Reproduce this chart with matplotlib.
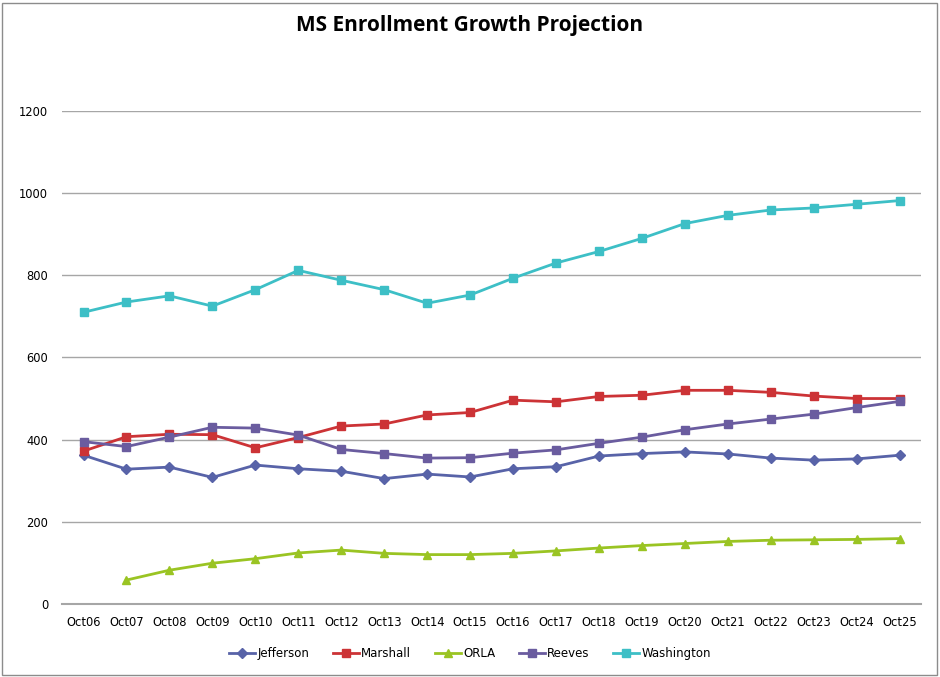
import matplotlib
matplotlib.use("Agg")
import matplotlib.pyplot as plt
from matplotlib.patches import Rectangle

plt.rcParams['font.family'] = ['Liberation Sans Narrow', 'DejaVu Sans']

years = ['Oct06', 'Oct07', 'Oct08', 'Oct09', 'Oct10', 'Oct11', 'Oct12', 'Oct13', 'Oct14', 'Oct15',
         'Oct16', 'Oct17', 'Oct18', 'Oct19', 'Oct20', 'Oct21', 'Oct22', 'Oct23', 'Oct24', 'Oct25']

jefferson = [362, 328, 333, 308, 338, 329, 323, 305, 316, 309,
             329, 334, 360, 366, 370, 365, 355, 350, 353, 362]
marshall = [372, 407, 413, 412, 380, 405, 433, 438, 460, 466,
            496, 492, 505, 508, 520, 520, 515, 506, 500, 500]
orla = [None, 58, 82, 99, 110, 124, 131, 123, 120, 120,
        123, 129, 136, 142, 147, 152, 155, 156, 157, 159]
reeves = [395, 383, 406, 430, 428, 411, 376, 366, 355, 356,
          367, 375, 391, 406, 424, 438, 450, 462, 478, 493]
washington = [710, 735, 750, 725, 765, 812, 788, 765, 732, 752,
              793, 830, 858, 890, 926, 946, 959, 964, 973, 982]

series = [
    ('Jefferson', jefferson, '#5863A8', 'D'),
    ('Marshall', marshall, '#CC3336', 's'),
    ('ORLA', orla, '#9AC423', '^'),
    ('Reeves', reeves, '#6A5C9F', 's'),
    ('Washington', washington, '#3DBFC6', 's'),
]

fig = plt.figure(figsize=(9.4, 6.77), dpi=100)
ax = fig.add_axes([0.066, 0.108, 0.914, 0.728])

x = list(range(len(years)))
for name, vals, col, mk in series:
    xs = [i for i, v in zip(x, vals) if v is not None]
    ys = [v for v in vals if v is not None]
    ax.plot(xs, ys, color=col, lw=2.0, marker=mk, markersize=6.2 if mk != 'D' else 5.2,
            markeredgecolor=col, label=name)

ax.set_xlim(-0.5, 19.5)
ax.set_ylim(0, 1200)
ax.set_yticks(range(0, 1201, 200))
ax.set_xticks(x)
ax.set_xticklabels(years)
ax.tick_params(length=0, labelsize=8.3, colors='black')
ax.tick_params(axis='x', pad=9)
ax.tick_params(axis='y', pad=10)
ax.grid(axis='y', color='#A6A6A6', lw=1)
ax.set_axisbelow(True)
for s in ['top', 'right', 'left']:
    ax.spines[s].set_visible(False)
ax.spines['bottom'].set_color('#A6A6A6')
ax.spines['bottom'].set_linewidth(1.5)

fig.suptitle('MS Enrollment Growth Projection', x=0.5, y=0.978, fontsize=15,
             fontweight='bold', family=['Open Sans', 'DejaVu Sans'])

fig.legend(loc='center', bbox_to_anchor=(0.5, 0.034), ncol=5, frameon=False,
           fontsize=8.5, handlelength=2.2, columnspacing=2.0, handletextpad=0.2)

fig.patches.append(Rectangle((0.002, 0.003), 0.995, 0.993, transform=fig.transFigure,
                             fill=False, edgecolor='#8C8C8C', lw=1))

fig.savefig('out.png', dpi=100)
